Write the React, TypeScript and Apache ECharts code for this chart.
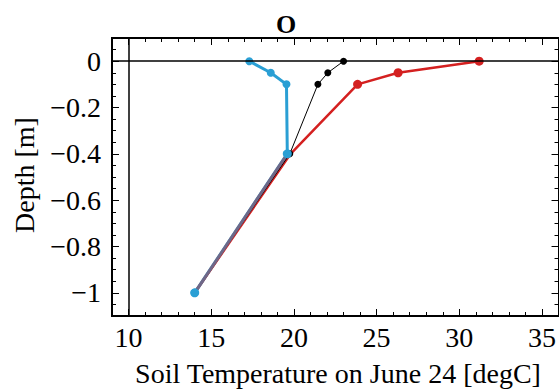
import React, { useEffect, useRef } from "react";
import * as echarts from "echarts";

const depths = [0, -0.05, -0.1, -0.4, -1.0];
const cyanTemps = [17.3, 18.6, 19.55, 19.6, 14.0];
const blackTemps = [23.0, 22.05, 21.45, 19.75, 14.0];
const redTemps = [31.2, 26.3, 23.85, 19.8, 14.0];

const majorX = [10, 15, 20, 25, 30, 35];
const minorX = [9, 11, 12, 13, 14, 16, 17, 18, 19, 21, 22, 23, 24, 26, 27, 28, 29, 31, 32, 33, 34, 36];
const majorY = [0, -0.2, -0.4, -0.6, -0.8, -1];
const minorY = [0.1, 0.05, -0.05, -0.1, -0.15, -0.25, -0.3, -0.35, -0.45, -0.5, -0.55, -0.65, -0.7, -0.75, -0.85, -0.9, -0.95, -1.05, -1.1];

const title = "O";
const xTitle = "Soil Temperature on June 24 [degC]";
const yTitle = "Depth [m]";

const FONT = "Liberation Serif";
const CYAN = "#2a9fd4";
const RED = "#d42020";

function pairs(temps: number[], from: number, markerCount: number) {
  return temps.slice(from).map((t, i) => ({
    value: [t, depths[i + from]],
    symbol: i < markerCount ? "circle" : "none",
  }));
}

function xAx(position: "top" | "bottom", values: number[], len: number, labels: boolean) {
  return {
    type: "value",
    min: 9,
    max: 36,
    position,
    axisLine: { show: true, onZero: false, lineStyle: { color: "#000", width: 2 } },
    axisTick: { show: true, inside: true, length: len, customValues: values, lineStyle: { color: "#000", width: 1 } },
    axisLabel: labels
      ? { show: true, customValues: majorX, margin: 7, color: "#000", fontFamily: FONT, fontSize: 28 }
      : { show: false },
    splitLine: { show: false },
  };
}

function yAx(position: "left" | "right", values: number[], len: number, labels: boolean) {
  return {
    type: "value",
    min: -1.1,
    max: 0.1,
    position,
    axisLine: { show: true, onZero: false, lineStyle: { color: "#000", width: 2 } },
    axisTick: { show: true, inside: true, length: len, customValues: values, lineStyle: { color: "#000", width: 1 } },
    axisLabel: labels
      ? {
          show: true,
          customValues: majorY,
          margin: 11,
          color: "#000",
          fontFamily: FONT,
          fontSize: 28,
          formatter: (v: number) => {
            const r = Math.round(v * 10) / 10;
            return r === 0 ? "0" : "\u2212" + String(Math.abs(r));
          },
        }
      : { show: false },
    splitLine: { show: false },
  };
}

export default function App() {
  const ref = useRef<HTMLDivElement>(null);
  useEffect(() => {
    if (!ref.current) return;
    const chart = echarts.init(ref.current, null, { renderer: "svg" });
    chart.setOption({
      animation: false,
      backgroundColor: "#fff",
      grid: { left: 112, top: 38, width: 448, height: 278, containLabel: false },
      xAxis: [
        xAx("bottom", majorX, 7, true),
        xAx("bottom", minorX, 4, false),
        xAx("top", majorX, 7, false),
        xAx("top", minorX, 4, false),
      ],
      yAxis: [
        yAx("left", majorY, 7, true),
        yAx("left", minorY, 4, false),
        yAx("right", majorY, 7, false),
        yAx("right", minorY, 4, false),
      ],
      graphic: [
        {
          type: "text",
          x: 286,
          y: 24,
          style: {
            text: title,
            fontFamily: FONT,
            fontSize: 26,
            fontWeight: "bold",
            fill: "#000",
            textAlign: "center",
            textVerticalAlign: "middle",
          },
        },
        {
          type: "text",
          x: 338,
          y: 373,
          style: {
            text: xTitle,
            fontFamily: FONT,
            fontSize: 28,
            fill: "#000",
            textAlign: "center",
            textVerticalAlign: "middle",
          },
        },
        {
          type: "text",
          x: 24,
          y: 175,
          rotation: Math.PI / 2,
          style: {
            text: yTitle,
            fontFamily: FONT,
            fontSize: 28,
            fill: "#000",
            textAlign: "center",
            textVerticalAlign: "middle",
          },
        },
      ],
      series: [
        {
          type: "line",
          name: "cyan",
          z: 2,
          data: pairs(cyanTemps, 0, 5),
          symbolSize: 8,
          lineStyle: { color: CYAN, width: 3 },
          itemStyle: { color: CYAN },
          markLine: {
            silent: true,
            symbol: "none",
            label: { show: false },
            lineStyle: { color: "#000", width: 1.5, type: "solid" },
            data: [{ xAxis: 10 }, { yAxis: 0 }],
          },
        },
        {
          type: "line",
          name: "red",
          z: 3,
          data: pairs(redTemps, 0, 3),
          symbolSize: 9,
          lineStyle: { color: RED, width: 2.5 },
          itemStyle: { color: RED },
        },
        {
          type: "line",
          name: "black",
          z: 4,
          data: pairs(blackTemps, 0, 4),
          symbolSize: 7,
          symbol: "diamond",
          lineStyle: { color: "#000", width: 1 },
          itemStyle: { color: "#000" },
        },
        {
          type: "line",
          name: "overlap",
          z: 5,
          data: pairs(cyanTemps, 3, 2),
          symbolSize: 9,
          lineStyle: { color: "#6e6888", width: 3 },
          itemStyle: { color: CYAN },
        },
      ],
    });
    return () => chart.dispose();
  }, []);
  return (
    <div
      ref={ref}
      style={{ position: "fixed", left: 0, top: 0, width: 559, height: 389, background: "#fff" }}
    />
  );
}
